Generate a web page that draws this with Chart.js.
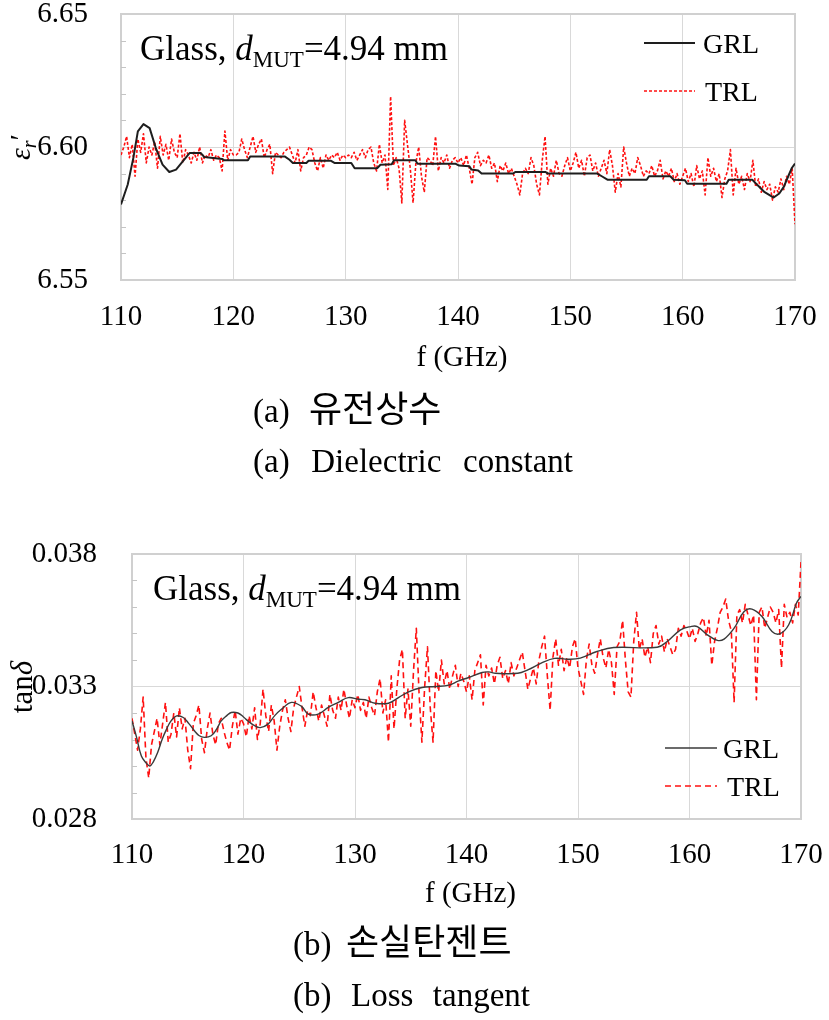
<!DOCTYPE html>
<html>
<head>
<meta charset="utf-8">
<script src="https://cdn.jsdelivr.net/npm/chart.js@4/dist/chart.umd.min.js"></script>
<style>
  html, body { margin: 0; padding: 0; background: #fff; }
  body { width: 829px; height: 1020px; position: relative; overflow: hidden; }
  canvas { position: absolute; left: 0; }
  #topChart { top: 0; }
  #botChart { top: 500px; }
</style>
</head>
<body>
<canvas id="topChart" width="829" height="500"></canvas>
<canvas id="botChart" width="829" height="520"></canvas>
<script>
// Frequency sweep of the TRL measurement (GHz), 0.25 GHz spacing
const trlFreq = [];
for (let i = 0; i <= 240; i++) trlFreq.push(110 + i * 0.25);

// (a) Dielectric constant - GRL (smooth, step-like)
const grlTopFreq = [110.0, 110.6, 111.1, 111.5, 112.0, 112.55, 113.1, 113.7, 114.3, 114.9, 115.5, 116.1,
  117.1, 117.3, 117.4, 119.0, 119.2, 121.3, 121.5, 124.6, 125.0, 125.3, 126.5, 126.7, 128.7, 129.0,
  130.5, 130.8, 132.8, 133.1, 134.1, 134.3, 136.2, 136.4, 139.8, 140.1, 141.0, 141.2, 141.8, 142.1,
  144.9, 145.1, 147.8, 148.0, 152.4, 152.8, 153.3, 156.8, 157.0, 158.9, 159.2, 160.2, 160.4, 163.9,
  164.1, 166.2, 166.7, 167.3, 168.1, 168.6, 169.0, 169.4, 169.7, 170.0];
const grlTopVal = [6.5784, 6.5859, 6.5959, 6.6059, 6.6086, 6.6071, 6.5996, 6.5934, 6.5906, 6.5915, 6.5946, 6.5977,
  6.5977, 6.5968, 6.5962, 6.5955, 6.5950, 6.5950, 6.5964, 6.5964, 6.5952, 6.5940, 6.5940, 6.5948, 6.5948, 6.5940,
  6.5940, 6.5920, 6.5920, 6.5933, 6.5935, 6.5950, 6.5950, 6.5937, 6.5937, 6.5930, 6.5928, 6.5915, 6.5912, 6.5900,
  6.5900, 6.5906, 6.5906, 6.5900, 6.5900, 6.5890, 6.5877, 6.5877, 6.5890, 6.5890, 6.5877, 6.5875, 6.5862, 6.5862,
  6.5877, 6.5877, 6.5855, 6.5830, 6.5810, 6.5825, 6.5850, 6.5890, 6.5920, 6.5938];

// (a) Dielectric constant - TRL
const trlTopVal = [6.597,
  6.600, 6.604, 6.596, 6.601,  6.589, 6.603, 6.598, 6.605,  6.594, 6.600, 6.597, 6.602,
  6.592, 6.604, 6.597, 6.601,  6.595, 6.603, 6.598, 6.596,  6.605, 6.594, 6.599, 6.597,
  6.594, 6.598, 6.595, 6.600,  6.594, 6.597, 6.596, 6.599,  6.595, 6.597, 6.596, 6.591,
  6.606, 6.595, 6.599, 6.597,
  6.597, 6.598, 6.603, 6.599,  6.596, 6.600, 6.604, 6.598,  6.601, 6.603, 6.596, 6.599,
  6.601, 6.590, 6.598, 6.597,  6.596, 6.598, 6.599, 6.600,  6.597, 6.594, 6.599, 6.591,
  6.596, 6.597, 6.600, 6.599,  6.594, 6.591, 6.596, 6.592,  6.597, 6.595, 6.597, 6.596,
  6.598, 6.595, 6.597, 6.596,
  6.597, 6.596, 6.598, 6.595,  6.597, 6.599, 6.596, 6.599,  6.600, 6.594, 6.591, 6.601,
  6.594, 6.597, 6.584, 6.619,  6.593, 6.596, 6.592, 6.579,  6.610, 6.601, 6.592, 6.579,
  6.594, 6.600, 6.589, 6.583,  6.596, 6.595, 6.593, 6.604,  6.591, 6.596, 6.594, 6.597,
  6.592, 6.595, 6.596, 6.594,
  6.596, 6.593, 6.597, 6.592,  6.586, 6.596, 6.598, 6.593,  6.595, 6.594, 6.597, 6.592,
  6.594, 6.587, 6.593, 6.591,  6.594, 6.590, 6.592, 6.589,  6.586, 6.582, 6.590, 6.592,
  6.590, 6.596, 6.593, 6.586,  6.582, 6.595, 6.604, 6.586,  6.592, 6.589, 6.595, 6.590,
  6.589, 6.593, 6.596, 6.591,
  6.594, 6.598, 6.592, 6.595,  6.589, 6.596, 6.597, 6.591,  6.594, 6.589, 6.592, 6.595,
  6.590, 6.599, 6.593, 6.583,  6.590, 6.585, 6.600, 6.594,  6.589, 6.592, 6.590, 6.596,
  6.593, 6.589, 6.591, 6.590,  6.593, 6.589, 6.591, 6.595,  6.588, 6.591, 6.589, 6.592,
  6.587, 6.590, 6.586, 6.589,
  6.592, 6.587, 6.590, 6.585,  6.593, 6.588, 6.591, 6.582,  6.596, 6.589, 6.592, 6.587,
  6.590, 6.581, 6.588, 6.591,  6.599, 6.582, 6.592, 6.586,  6.589, 6.584, 6.590, 6.587,
  6.595, 6.585, 6.588, 6.583,  6.587, 6.584, 6.586, 6.580,  6.585, 6.583, 6.588, 6.584,
  6.589, 6.586, 6.592, 6.571];

// (b) Loss tangent - GRL
const grlBotFreq = [110.0, 110.4, 110.84, 111.3, 111.6, 111.9, 112.3, 112.7, 113.1, 113.5, 114.0, 114.6,
  115.1, 115.6, 116.0, 116.5, 117.1, 117.6, 118.0, 118.5, 118.9, 119.5, 120.0, 120.4, 121.0, 121.5,
  122.2, 122.8, 123.4, 124.3, 125.2, 125.8, 126.7, 127.6, 128.5, 129.4, 130.3, 130.9, 131.8, 133.0,
  133.9, 134.8, 136.0, 137.2, 138.4, 139.3, 140.2, 141.4, 142.0, 142.6, 144.6, 145.5, 146.7, 147.9,
  149.1, 150.2, 151.7, 153.2, 157.1, 158.0, 159.2, 160.1, 160.7, 161.6, 162.5, 163.1, 164.0, 164.9,
  165.6, 166.5, 167.4, 168.1, 168.9, 169.6, 170.0];
const grlBotVal = [0.0317, 0.0311, 0.03038, 0.0301, 0.0300, 0.03015, 0.03051, 0.0310, 0.03139, 0.0317, 0.03189, 0.03183,
  0.0316, 0.03133, 0.03115, 0.03108, 0.03114, 0.0314, 0.0317, 0.0319, 0.03202, 0.0320, 0.03185, 0.0317, 0.03152, 0.03145,
  0.03158, 0.0319, 0.03214, 0.0324, 0.03225, 0.03196, 0.03196, 0.03221, 0.0324, 0.03258, 0.03252, 0.0325, 0.03237, 0.03237,
  0.03258, 0.0328, 0.03296, 0.0330, 0.03305, 0.03321, 0.03334, 0.03353, 0.03355, 0.0335, 0.0335, 0.03363, 0.03388, 0.03406,
  0.03403, 0.03407, 0.03432, 0.03447, 0.03448, 0.0347, 0.03514, 0.03526, 0.03526, 0.03495, 0.03474, 0.03479, 0.0352, 0.03583,
  0.03592, 0.03564, 0.03508, 0.03499, 0.03533, 0.03615, 0.0364];

// (b) Loss tangent - TRL
const trlBotVal = [0.0318,
  0.0312, 0.0306, 0.0314, 0.0326,  0.0303, 0.02955, 0.0308, 0.0313,  0.0318, 0.0308, 0.0316, 0.0324,
  0.0309, 0.0312, 0.0320, 0.0311,  0.0322, 0.0314, 0.0318, 0.0306,  0.0299, 0.0316, 0.0319, 0.0323,
  0.0310, 0.0305, 0.0314, 0.0320,  0.0312, 0.0308, 0.0316, 0.0318,  0.0313, 0.0309, 0.0306, 0.0315,
  0.0321, 0.0312, 0.0318, 0.0316,
  0.0311, 0.0319, 0.0314, 0.0322,  0.0310, 0.0316, 0.0329, 0.0319,  0.0313, 0.0323, 0.0317, 0.0306,
  0.0315, 0.0321, 0.0325, 0.0318,  0.0313, 0.0322, 0.0326, 0.0330,  0.0322, 0.0315, 0.0321, 0.0319,
  0.0328, 0.0322, 0.0317, 0.0323,  0.0319, 0.0315, 0.0327, 0.0321,  0.0318, 0.0326, 0.0321, 0.0329,
  0.0323, 0.0318, 0.0325, 0.0322,
  0.0327, 0.0321, 0.0324, 0.0318,  0.0326, 0.0322, 0.0319, 0.0328,  0.0333, 0.0320, 0.0325, 0.0309,
  0.0334, 0.0314, 0.0329, 0.0340,  0.0344, 0.0318, 0.0329, 0.0315,  0.0336, 0.0352, 0.0327, 0.0309,
  0.0330, 0.0345, 0.0322, 0.0309,  0.0336, 0.0328, 0.0340, 0.0331,  0.0336, 0.0329, 0.0334, 0.0338,
  0.0330, 0.0335, 0.0332, 0.0328,
  0.0334, 0.0325, 0.0336, 0.0339,  0.0342, 0.0323, 0.0338, 0.0334,  0.0337, 0.0331, 0.0338, 0.0341,
  0.0333, 0.0336, 0.0331, 0.0339,  0.0334, 0.0337, 0.0340, 0.0343,  0.0336, 0.0329, 0.0333, 0.0337,
  0.0331, 0.0340, 0.0345, 0.0349,  0.0334, 0.0321, 0.0341, 0.0348,  0.0338, 0.0344, 0.0336, 0.0341,
  0.0337, 0.0345, 0.0348, 0.0337,
  0.0332, 0.0327, 0.0340, 0.0346,  0.0338, 0.0335, 0.0342, 0.0348,  0.0341, 0.0337, 0.0344, 0.0339,
  0.0327, 0.0345, 0.0347, 0.0355,  0.0340, 0.0328, 0.0326, 0.0347,  0.0358, 0.0344, 0.0348, 0.0341,
  0.0345, 0.0339, 0.0350, 0.0353,  0.0346, 0.0349, 0.0343, 0.0348,  0.0345, 0.0342, 0.0344, 0.0352,
  0.0349, 0.0353, 0.0351, 0.0348,
  0.0352, 0.0347, 0.0350, 0.0354,  0.0356, 0.0349, 0.0355, 0.0338,  0.0347, 0.0352, 0.0358, 0.0360,
  0.0363, 0.0355, 0.0351, 0.0324,  0.0357, 0.0359, 0.0354, 0.0361,  0.0357, 0.0353, 0.0357, 0.0325,
  0.0358, 0.0360, 0.0352, 0.0356,  0.0360, 0.0358, 0.0354, 0.0359,  0.0337, 0.0361, 0.0356, 0.0358,
  0.0354, 0.0361, 0.0357, 0.0377];

const serif = "'Liberation Serif', 'Times New Roman', serif";
const hangul = "'Noto Sans CJK KR', sans-serif";

// draw text pieces one after another (italics, subscripts, mixed scripts)
function drawParts(ctx, parts, x, y) {
  for (const [t, font, dy] of parts) {
    ctx.font = font;
    ctx.fillText(t, x, y + (dy || 0));
    x += ctx.measureText(t).width;
  }
}
function partsWidth(ctx, parts) {
  let w = 0;
  for (const [t, font] of parts) { ctx.font = font; w += ctx.measureText(t).width; }
  return w;
}
// caption line spread to the width it has in the figure
function fitLine(ctx, c) {
  ctx.font = c.font;
  ctx.wordSpacing = '0px';
  const nat = ctx.measureText(c.text).width;
  const gaps = (c.text.match(/ /g) || []).length;
  if (gaps) ctx.wordSpacing = Math.max(0, (c.w - nat) / gaps) + 'px';
  ctx.fillText(c.text, c.x, c.y);
  ctx.wordSpacing = '0px';
}

const figurePlugin = {
  id: 'figure',
  beforeDatasetsDraw(chart, args, o) {
    const { ctx, chartArea: a, scales: { y } } = chart;
    ctx.save();
    ctx.strokeStyle = '#d0d0d0';
    ctx.lineWidth = 2;
    ctx.strokeRect(a.left, a.top, a.right - a.left, a.bottom - a.top);
    // minor tick marks on the value axis
    ctx.lineWidth = 1;
    ctx.strokeStyle = '#c4c4c4';
    for (let k = 1; k < 10; k++) {
      if (k === 5) continue;
      const py = Math.round(y.getPixelForValue(y.min + k * o.minor)) + 0.5;
      ctx.beginPath();
      ctx.moveTo(a.left, py);
      ctx.lineTo(a.left + 5, py);
      ctx.stroke();
    }
    ctx.restore();
  },
  afterDraw(chart, args, o) {
    const { ctx, chartArea: a, scales: { x } } = chart;
    const sets = chart.data.datasets;
    ctx.save();
    ctx.fillStyle = '#000';

    // x tick labels, at the scale's own ticks
    ctx.font = `29px ${serif}`;
    ctx.textAlign = 'center';
    ctx.textBaseline = 'middle';
    x.ticks.forEach(t => ctx.fillText(String(t.value), x.getPixelForValue(t.value), o.xTickY));

    ctx.textAlign = 'left';
    ctx.textBaseline = 'alphabetic';

    // sample annotation
    drawParts(ctx, [
      ['Glass, ', `35px ${serif}`],
      ['d', `italic 35px ${serif}`],
      ['MUT', `23px ${serif}`, 7],
      ['=4.94 mm', `35px ${serif}`]
    ], o.note[0], o.note[1]);

    // legend
    o.legend.forEach((row, i) => {
      const ds = sets[i];
      ctx.strokeStyle = ds.borderColor;
      ctx.lineWidth = ds.borderWidth;
      ctx.setLineDash(ds.borderDash || []);
      ctx.beginPath();
      ctx.moveTo(row.x1, row.y);
      ctx.lineTo(row.x2, row.y);
      ctx.stroke();
      ctx.setLineDash([]);
      ctx.font = `28px ${serif}`;
      ctx.fillText(ds.label, row.tx, row.y + 10);
    });

    // y axis title
    ctx.save();
    ctx.translate(o.yTitle.x, o.yTitle.y);
    ctx.rotate(-Math.PI / 2);
    drawParts(ctx, o.yTitle.parts, -partsWidth(ctx, o.yTitle.parts) / 2, 0);
    ctx.restore();

    // x axis title
    ctx.font = `29px ${serif}`;
    ctx.textAlign = 'center';
    ctx.fillText('f (GHz)', (a.left + a.right) / 2 + 4, o.xTitleY);
    ctx.textAlign = 'left';

    // figure captions: Korean line, then English line
    const k = o.korean;
    drawParts(ctx, [[k.tag, `33px ${serif}`]], k.x, k.y);
    drawParts(ctx, [[k.text, `36px ${hangul}`]], k.hx, k.y);
    fitLine(ctx, o.english);
    ctx.restore();
  }
};

function buildChart(id, o) {
  const canvas = document.getElementById(id);
  return new Chart(canvas, {
    type: 'line',
    data: {
      datasets: [
        {
          label: 'GRL',
          data: o.grlF.map((f, i) => ({ x: f, y: o.grlV[i] })),
          borderColor: o.grlColor,
          borderWidth: o.grlWidth,
          pointRadius: 0,
          tension: o.tension,
          borderJoinStyle: 'round'
        },
        {
          label: 'TRL',
          data: trlFreq.map((f, i) => ({ x: f, y: o.trlV[i] })),
          borderColor: '#ff1010',
          borderWidth: o.trlWidth,
          borderDash: o.trlDash,
          pointRadius: 0,
          tension: 0,
          borderJoinStyle: 'round'
        }
      ]
    },
    options: {
      responsive: false,
      animation: false,
      devicePixelRatio: 1,
      layout: {
        padding: { top: o.area.top, right: canvas.width - o.area.right, bottom: canvas.height - o.area.bottom - 20, left: 0 }
      },
      plugins: { legend: { display: false }, tooltip: { enabled: false }, figure: o },
      scales: {
        x: {
          type: 'linear', min: 110, max: 170,
          ticks: { stepSize: 10, display: false },
          grid: { color: '#d9d9d9', drawTicks: false },
          border: { display: false },
          afterFit(s) { s.height = 20; s.paddingLeft = 0; s.paddingRight = 0; }
        },
        y: {
          min: o.yMin, max: o.yMax,
          ticks: { stepSize: o.yStep, padding: o.yPad, color: '#000', font: { family: serif, size: 29 },
            callback: v => v.toFixed(o.dec) },
          grid: { color: '#d9d9d9', drawTicks: false },
          border: { display: false },
          afterFit(s) { s.width = o.area.left; s.paddingTop = 0; s.paddingBottom = 0; }
        }
      }
    },
    plugins: [figurePlugin]
  });
}

// (a) Dielectric constant
buildChart('topChart', {
  grlF: grlTopFreq, grlV: grlTopVal, trlV: trlTopVal,
  grlColor: '#1e1e1e', grlWidth: 2, tension: 0,
  trlWidth: 1.6, trlDash: [3, 2],
  area: { left: 121, right: 795, top: 14, bottom: 280 },
  yMin: 6.55, yMax: 6.65, yStep: 0.05, dec: 2, minor: 0.01,
  yPad: 33, xTickY: 317,
  note: [140, 60],
  legend: [{ x1: 644, x2: 695, y: 43, tx: 703 }, { x1: 644, x2: 695, y: 91, tx: 705 }],
  yTitle: { x: 30, y: 147, parts: [['ε', `italic 30px ${serif}`], ['r', `italic 20px ${serif}`, 6], ['′', `30px ${serif}`]] },
  xTitleY: 366,
  korean: { tag: '(a)', text: '유전상수', x: 253, hx: 309, y: 422 },
  english: { text: '(a) Dielectric constant', x: 253, y: 472, w: 320, font: `33px ${serif}` }
});

// (b) Loss tangent
buildChart('botChart', {
  grlF: grlBotFreq, grlV: grlBotVal, trlV: trlBotVal,
  grlColor: '#3a3a3a', grlWidth: 1.4, tension: 0.4,
  trlWidth: 1.6, trlDash: [6, 4],
  area: { left: 132, right: 801, top: 54, bottom: 319 },
  yMin: 0.028, yMax: 0.038, yStep: 0.005, dec: 3, minor: 0.001,
  yPad: 35, xTickY: 355,
  note: [153, 100],
  legend: [{ x1: 665, x2: 717, y: 248, tx: 723 }, { x1: 665, x2: 717, y: 286, tx: 727 }],
  yTitle: { x: 32, y: 187, parts: [['tan', `31px ${serif}`], ['δ', `italic 31px ${serif}`]] },
  xTitleY: 402,
  korean: { tag: '(b)', text: '손실탄젠트', x: 293, hx: 346, y: 455 },
  english: { text: '(b) Loss tangent', x: 293, y: 506, w: 237, font: `33px ${serif}` }
});
</script>
</body>
</html>
